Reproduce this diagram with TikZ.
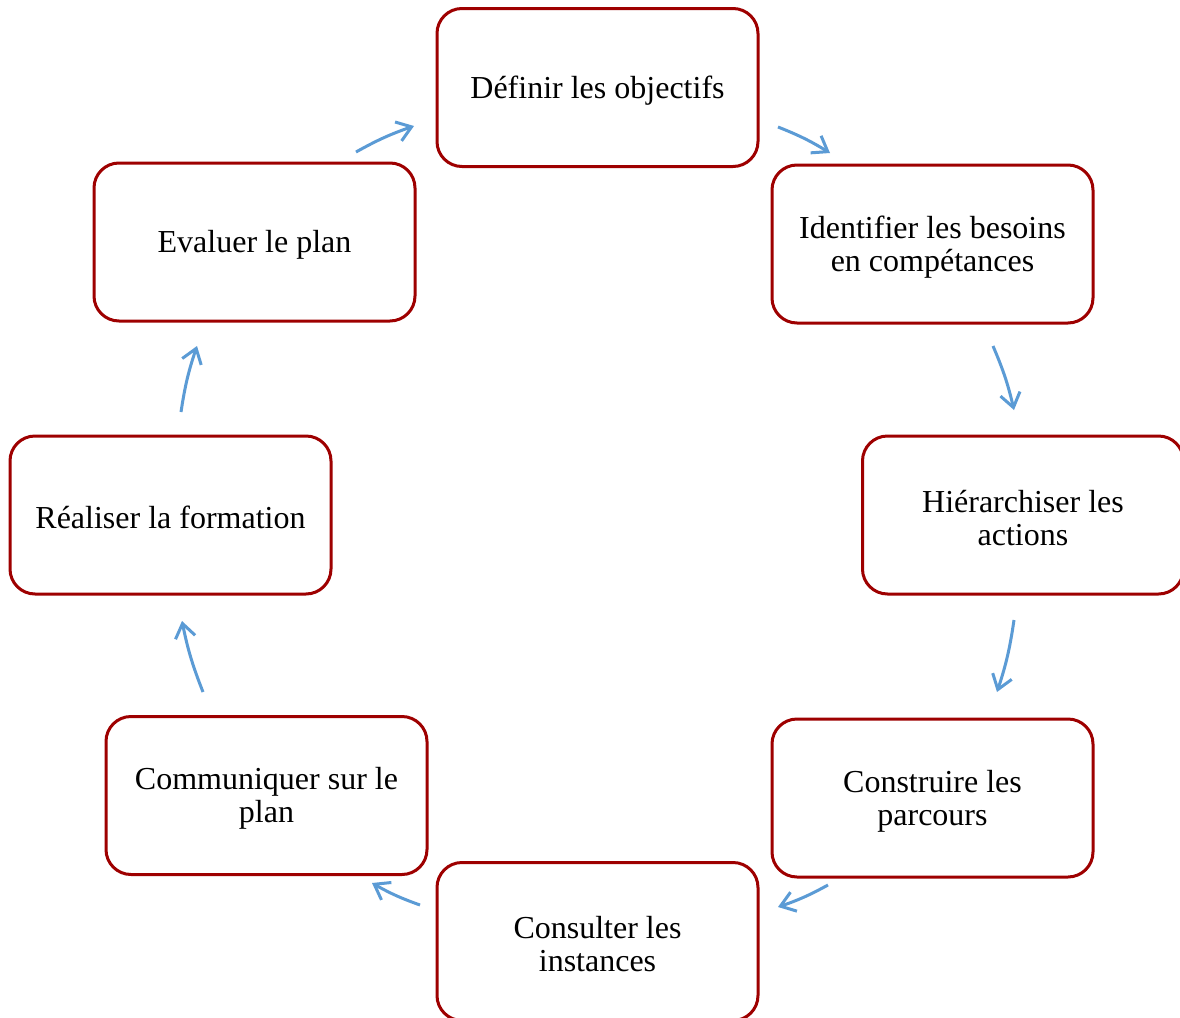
\documentclass[tikz,border=0pt]{standalone}
\usepackage{fontspec}
\setmainfont{Liberation Serif}
\usetikzlibrary{arrows.meta}
\definecolor{boxred}{RGB}{158,0,0}
\definecolor{arrblue}{RGB}{91,155,213}
\begin{document}
\begin{tikzpicture}[x=0.5pt,y=-0.5pt,box/.style={draw=boxred,line width=1.5pt,rounded corners=12.5pt,fill=white,minimum width=160.5pt,minimum height=79pt,inner sep=0},lbl/.style={yshift=-1.4pt,align=center,font=\fontsize{16}{16.5}\selectfont},arr/.style={draw=arrblue,line width=1.5pt,-{Straight Barb[length=7pt,width=10pt]},bend left=5}]
\fill[white](0,0)rectangle(1180,1018);\useasboundingbox(0,0)rectangle(1180,1018);
\node[box,label={[lbl]center:Définir les objectifs}](obj)at(597.5,87.5){};
\node[box,label={[lbl]center:Identifier les besoins\\en compétances}](bes)at(932.5,244){};
\node[box,label={[lbl]center:Hiérarchiser les\\actions}](hie)at(1023,515){};
\node[box,label={[lbl]center:Construire les\\parcours}](par)at(932.5,798){};
\node[box,label={[lbl]center:Consulter les\\instances}](ins)at(597.5,941.5){};
\node[box,label={[lbl]center:Communiquer sur le\\plan}](com)at(266.5,795.5){};
\node[box,label={[lbl]center:Réaliser la formation}](form)at(170.5,515){};
\node[box,label={[lbl]center:Evaluer le plan}](eval)at(254.5,242){};
\foreach \sx/\sy/\ex/\ey [count=\k] in {356/152/414/126,778/127/830/153,993/346/1014/410,1014/620/997/692,828/885/778/907,420/905/372/883,203/692/182/621,181/412/197/346}{\coordinate(s\k)at(\sx,\sy);\coordinate(e\k)at(\ex,\ey);\draw[arr](s\k)to(e\k);}
\end{tikzpicture}
\end{document}
